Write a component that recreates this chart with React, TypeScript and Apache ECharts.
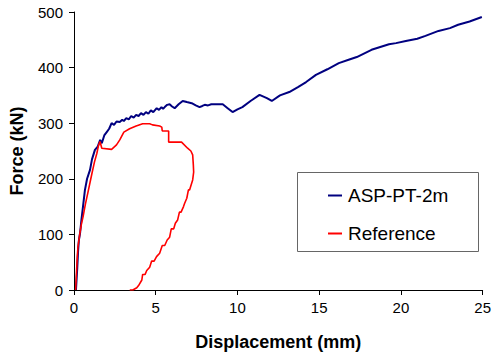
import React, { useEffect, useRef } from "react";
import * as echarts from "echarts";

const blueX = [0.12, 0.2, 0.25, 0.3, 0.37, 0.45, 0.55, 0.67, 0.8, 0.98, 1.1, 1.28, 1.45, 1.6, 1.7, 1.85, 2.0, 2.15, 2.3, 2.45, 2.6, 2.8, 2.95, 3.05, 3.2, 3.35, 3.5, 3.65, 3.8, 3.95, 4.1, 4.25, 4.4, 4.55, 4.7, 4.85, 5.06, 5.2, 5.35, 5.45, 5.55, 5.7, 5.85, 6.0, 6.16, 6.4, 6.65, 6.9, 7.2, 7.45, 7.68, 7.85, 8.0, 8.2, 8.4, 9.1, 9.4, 9.7, 10.0, 10.3, 10.8, 11.35, 11.8, 12.1, 12.6, 13.17, 13.7, 14.2, 14.8, 15.5, 16.2, 16.8, 17.3, 18.2, 19.27, 19.7, 20.3, 21.0, 21.5, 22.3, 23.0, 23.5, 24.2, 24.95];
const blueY = [0, 40, 70, 90, 102, 125, 150, 180, 200, 216, 235, 252, 258, 270, 264, 278, 284, 290, 300, 297, 303, 302, 306, 304, 309, 307, 313, 310, 315, 313, 318, 315, 320, 317, 323, 320, 327, 324, 329, 326, 329, 333, 334, 330, 327, 334, 340, 338, 336, 332, 329, 331, 333, 332, 334, 334, 327, 320, 325, 329, 340, 351, 345, 340, 350, 356, 365, 374, 387, 397, 408, 414, 419, 432, 442, 444, 448, 452, 457, 466, 471, 477, 483, 491];

const redX = [0.1, 0.15, 0.2, 0.24, 0.35, 0.45, 0.55, 0.7, 0.85, 0.97, 1.1, 1.25, 1.4, 1.5, 1.59, 1.7, 2.3, 2.6, 2.8, 3.05, 3.4, 3.8, 4.2, 4.63, 4.8, 5.24, 5.37, 5.4, 5.79, 5.79, 6.58, 6.95, 7.15, 7.26, 7.3, 7.32, 7.26, 7.07, 7.0, 6.9, 6.77, 6.7, 6.55, 6.45, 6.34, 6.2, 6.1, 5.95, 5.85, 5.7, 5.55, 5.4, 5.24, 5.05, 4.9, 4.75, 4.63, 4.45, 4.35, 4.2, 4.15, 3.95, 3.84, 3.6, 3.41];
const redY = [0, 30, 60, 77, 100, 118, 131, 155, 175, 192, 210, 230, 246, 260, 267, 255, 253, 261, 270, 284, 290, 295, 299, 299, 297, 295, 293, 286, 286, 266, 266, 255, 250, 243, 225, 212, 198, 180, 180, 165, 156, 150, 140, 140, 126, 120, 110, 110, 95, 90, 80, 80, 66, 60, 52, 52, 41, 35, 28, 28, 18, 8, 4, 0, 0];

const seriesNames = ["ASP-PT-2m", "Reference"];
const seriesColors = ["#000080", "#ff0000"];

const zip = (xs: number[], ys: number[]) => xs.map((x, i) => [x, ys[i]]);

export default function App() {
  const ref = useRef<HTMLDivElement>(null);
  useEffect(() => {
    if (!ref.current) return;
    const chart = echarts.init(ref.current, null, { renderer: "svg" });
    const font = "Liberation Sans, Arial, sans-serif";
    chart.setOption({
      animation: false,
      backgroundColor: "#ffffff",
      textStyle: { fontFamily: font, color: "#000" },
      grid: { left: 74, right: 10, top: 12, bottom: 66, containLabel: false },
      xAxis: {
        type: "value",
        min: 0,
        max: 25,
        interval: 5,
        name: "Displacement (mm)",
        nameLocation: "middle",
        nameGap: 43,
        nameTextStyle: { fontSize: 18, fontWeight: "bold", color: "#000", fontFamily: font },
        axisLine: { show: true, onZero: false, lineStyle: { color: "#000", width: 1 } },
        axisTick: { show: true, inside: false, length: 5, lineStyle: { color: "#000" } },
        axisLabel: { fontSize: 15, color: "#000", margin: 10, fontFamily: font },
        splitLine: { show: false },
      },
      yAxis: {
        type: "value",
        min: 0,
        max: 500,
        interval: 100,
        name: "Force (kN)",
        nameLocation: "middle",
        nameGap: 48,
        nameRotate: 90,
        nameTextStyle: { fontSize: 18, fontWeight: "bold", color: "#000", fontFamily: font },
        axisLine: { show: true, onZero: false, lineStyle: { color: "#000", width: 1 } },
        axisTick: { show: true, inside: false, length: 5, lineStyle: { color: "#000" } },
        axisLabel: { fontSize: 15, color: "#000", margin: 11, fontFamily: font },
        splitLine: { show: false },
      },
      legend: {
        show: true,
        orient: "vertical",
        left: 328,
        top: 186,
        itemGap: 19,
        itemWidth: 14,
        itemHeight: 2,
        icon: "rect",
        padding: 0,
        textStyle: { fontSize: 19, color: "#000", fontFamily: font, padding: [0, 0, 0, 1] },
        data: seriesNames,
      },
      graphic: [
        {
          type: "rect",
          left: 297,
          top: 172,
          shape: { width: 181, height: 79 },
          style: { fill: "#fff", stroke: "#666", lineWidth: 1 },
          z: 0,
          zlevel: 0,
        },
      ],
      series: [
        {
          name: seriesNames[0],
          type: "line",
          data: zip(blueX, blueY),
          showSymbol: false,
          symbol: "none",
          lineStyle: { color: seriesColors[0], width: 2 },
          itemStyle: { color: seriesColors[0] },
          z: 3,
        },
        {
          name: seriesNames[1],
          type: "line",
          data: zip(redX, redY),
          showSymbol: false,
          symbol: "none",
          lineStyle: { color: seriesColors[1], width: 1.6 },
          itemStyle: { color: seriesColors[1] },
          z: 4,
        },
      ],
    });
    return () => chart.dispose();
  }, []);
  return <div ref={ref} style={{ width: 494, height: 356, position: "absolute", left: 0, top: 0 }} />;
}
